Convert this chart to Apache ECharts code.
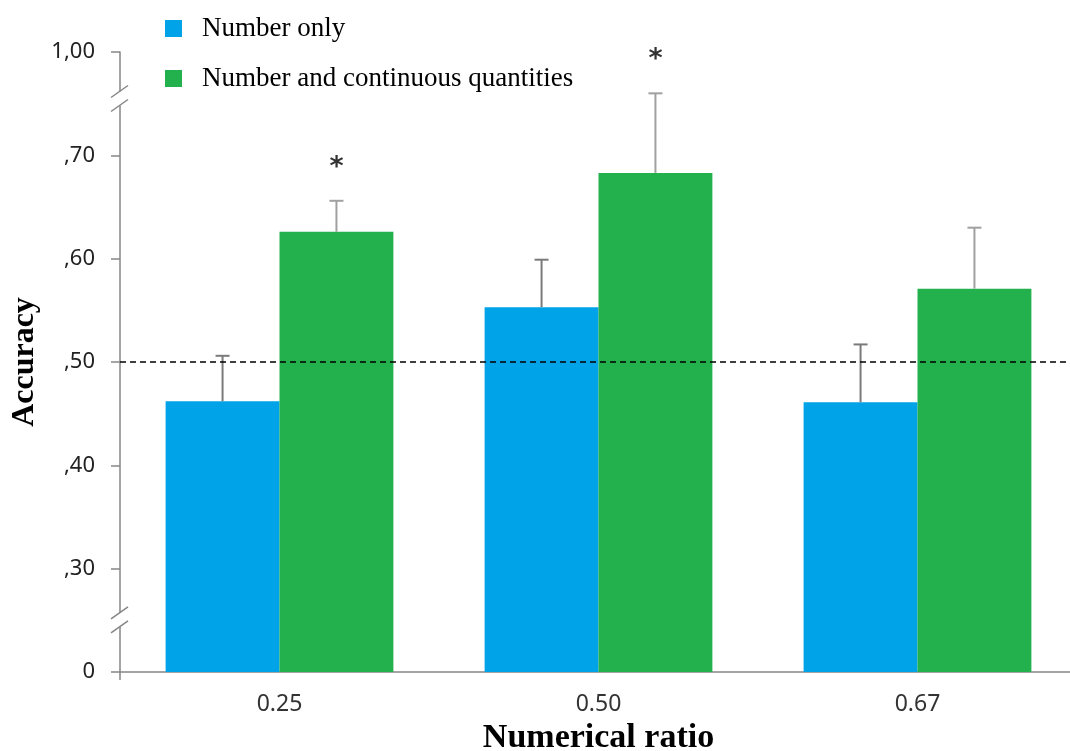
<!DOCTYPE html>
<html>
<head>
<meta charset="utf-8">
<script src="https://cdn.jsdelivr.net/npm/echarts@6/dist/echarts.min.js"></script>
<style>html,body{margin:0;padding:0;background:#fff}#c{width:1070px;height:751px}</style>
</head>
<body>
<div id="c"></div>
<script>
// ---- data ----
const categories = ['0.25', '0.50', '0.67'];
const seriesNames = ['Number only', 'Number and continuous quantities'];
const numberOnly = [0.462, 0.553, 0.461];
const numberOnlyErr = [0.044, 0.046, 0.056];
const numberCont = [0.626, 0.683, 0.571];
const numberContErr = [0.030, 0.077, 0.059];
const sigMarks = ['*', '*', ''];
const yTickLabels = ['0', ',30', ',40', ',50', ',60', ',70', '1,00'];
const chanceLevel = 0.5;
const axisBreaks = [0.2505, 0.755];

const AXIS_MIN = 0.2, AXIS_MAX = 0.8, AXIS_STEP = 0.1;
const BAR_FRAC = 0.357;

function errorSeries(name, values, errs, side, color, marks) {
  return {
    type: 'custom',
    name: name + ' err',
    z: 5,
    silent: true,
    data: values.map((v, i) => [i, v, v + errs[i]]),
    renderItem: function (params, api) {
      const i = api.value(0);
      const band = api.size([1, 0])[0];
      const off = side * band * BAR_FRAC / 2;
      const top = api.coord([i, api.value(2)]);
      const base = api.coord([i, api.value(1)]);
      const x = top[0] + off;
      const children = [
        { type: 'line', shape: { x1: x, y1: base[1], x2: x, y2: top[1] }, style: { stroke: color, lineWidth: 2 } },
        { type: 'line', shape: { x1: x - 7, y1: top[1], x2: x + 7, y2: top[1] }, style: { stroke: color, lineWidth: 2 } }
      ];
      if (marks && marks[i]) {
        children.push({ type: 'text', style: { text: marks[i], x: x, y: top[1] - 33, align: 'center', verticalAlign: 'middle', font: 'bold 27px "DejaVu Sans"', fill: '#333' } });
      }
      return { type: 'group', children: children };
    }
  };
}

const chart = echarts.init(document.getElementById('c'), null, { renderer: 'canvas' });
const option = {
  animation: false,
  backgroundColor: '#fff',
  grid: { left: 120, top: 52, width: 957, height: 620, containLabel: false, outerBoundsMode: 'none' },
  legend: {
    orient: 'vertical', left: 160, top: 10, itemGap: 23,
    itemWidth: 17, itemHeight: 17, icon: 'rect',
    data: seriesNames,
    textStyle: { fontFamily: 'Liberation Serif', fontSize: 27, lineHeight: 27, color: '#000', padding: [0, 0, 0, 15] }
  },
  xAxis: {
    type: 'category', data: categories,
    axisLine: { lineStyle: { color: '#868686', width: 1.5 } },
    axisTick: { show: true, length: 8, interval: (idx) => idx === 0, lineStyle: { color: '#868686', width: 1.5 } },
    axisLabel: { fontFamily: 'Noto Sans', fontSize: 23, color: '#333', margin: 21 },
    name: 'Numerical ratio', nameLocation: 'middle', nameGap: 39,
    nameTextStyle: { fontFamily: 'Liberation Serif', fontWeight: 'bold', fontSize: 34, color: '#000' }
  },
  yAxis: {
    type: 'value', min: AXIS_MIN, max: AXIS_MAX, interval: AXIS_STEP, startValue: AXIS_MIN,
    splitLine: { show: false },
    axisLine: { show: true, lineStyle: { color: '#868686', width: 1.5 } },
    axisTick: { show: true, length: 9, lineStyle: { color: '#868686', width: 1.5 } },
    axisLabel: {
      fontFamily: 'Noto Sans', fontSize: 22, color: '#222', margin: 25,
      formatter: v => yTickLabels[Math.round((v - AXIS_MIN) / AXIS_STEP)]
    },
    name: 'Accuracy', nameLocation: 'middle', nameGap: 78, nameRotate: 90,
    nameTextStyle: { fontFamily: 'Liberation Serif', fontWeight: 'bold', fontSize: 32, color: '#000' }
  },
  series: [
    {
      type: 'bar', name: seriesNames[0], data: numberOnly, barWidth: (BAR_FRAC * 100) + '%', barGap: '0%', clip: true,
      itemStyle: { color: '#00A2E8' },
      markLine: {
        silent: true, symbol: 'none', label: { show: false },
        lineStyle: { color: '#000', type: [6, 4], width: 1.5 },
        data: [{ yAxis: chanceLevel }], z: 10
      }
    },
    {
      type: 'bar', name: seriesNames[1], data: numberCont, barWidth: (BAR_FRAC * 100) + '%', barGap: '0%', clip: true,
      itemStyle: { color: '#22B14C' }
    },
    errorSeries(seriesNames[0], numberOnly, numberOnlyErr, -1, '#7a7a7a', null),
    errorSeries(seriesNames[1], numberCont, numberContErr, 1, '#a0a0a0', sigMarks)
  ]
};
chart.setOption(option);

// axis break marks on the y axis line
const axisX = 120;
const gfx = [];
axisBreaks.forEach(b => {
  const yc = chart.convertToPixel({ yAxisIndex: 0 }, b);
  gfx.push({ type: 'rect', shape: { x: axisX - 4, y: yc - 7, width: 8, height: 14 }, style: { fill: '#fff' }, z: 100 });
  [-7, 7].forEach(d => {
    gfx.push({ type: 'line', shape: { x1: axisX - 9, y1: yc + d + 6, x2: axisX + 8, y2: yc + d - 6 }, style: { stroke: '#868686', lineWidth: 1.5 }, z: 101 });
  });
});
chart.setOption({ graphic: gfx });
</script>
</body>
</html>
